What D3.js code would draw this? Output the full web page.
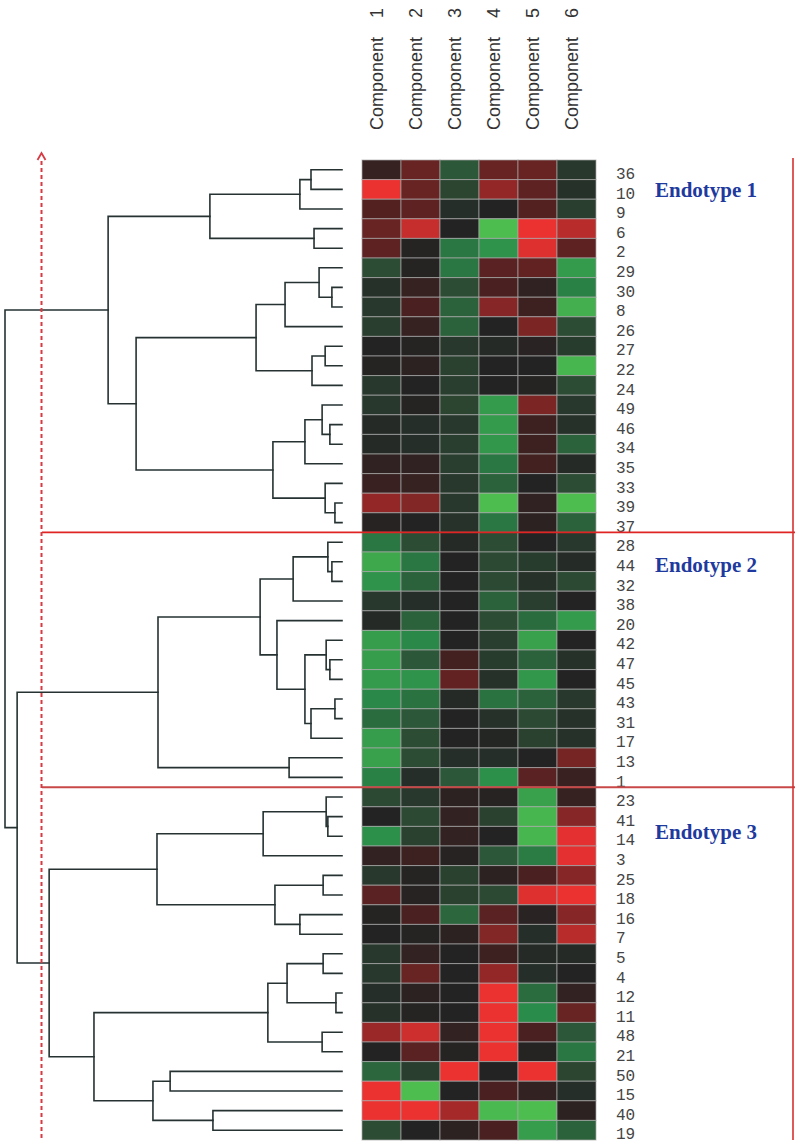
<!DOCTYPE html>
<html>
<head>
<meta charset="utf-8">
<script src="https://cdn.jsdelivr.net/npm/d3@7"></script>
<style>
  html, body { margin: 0; padding: 0; background: #fff; }
  svg { display: block; }
</style>
</head>
<body>
<svg id="chart" width="800" height="1144"></svg>
<script>
// ---------------- DATA ----------------
const components = ["Component 1","Component 2","Component 3","Component 4","Component 5","Component 6"];

const endo1Rows = ["36","10","9","6","2","29","30","8","26","27","22","24","49","46","34","35","33","39","37"];
const endo2Rows = ["28","44","32","38","20","42","47","45","43","31","17","13","1"];
const endo3Rows = ["23","41","14","3","25","18","16","7","5","4","12","11","48","21","50","15","40","19"];

// heatmap values (negative = green, positive = red)
const endo1Values = [
  [0.15, 0.45, -0.35, 0.45, 0.45, -0.15],
  [1.0, 0.45, -0.25, 0.65, 0.4, -0.1],
  [0.35, 0.4, -0.08, 0.0, 0.35, -0.2],
  [0.45, 0.85, 0.0, -0.95, 1.0, 0.8],
  [0.4, 0.02, -0.5, -0.65, 0.95, 0.4],
  [-0.3, 0.02, -0.5, 0.38, 0.42, -0.7],
  [-0.1, 0.15, -0.3, 0.3, 0.1, -0.55],
  [-0.15, 0.3, -0.4, 0.6, 0.2, -0.85],
  [-0.2, 0.15, -0.4, 0.0, 0.55, -0.3],
  [0.0, 0.02, -0.15, -0.05, 0.05, -0.18],
  [0.02, 0.08, -0.22, 0.0, 0.0, -0.9],
  [-0.15, 0.0, -0.2, 0.0, 0.02, -0.3],
  [-0.15, 0.02, -0.25, -0.7, 0.55, -0.15],
  [-0.05, -0.08, -0.15, -0.7, 0.2, -0.1],
  [-0.05, -0.08, -0.2, -0.68, 0.2, -0.4],
  [0.1, 0.1, -0.2, -0.5, 0.25, -0.05],
  [0.18, 0.15, -0.15, -0.4, 0.0, -0.3],
  [0.65, 0.58, -0.15, -0.95, 0.1, -0.95],
  [0.03, 0.0, -0.12, -0.5, 0.08, -0.4]
];
const endo2Values = [
  [-0.5, -0.3, -0.05, -0.3, 0.0, -0.15],
  [-0.8, -0.5, 0.0, -0.28, -0.18, -0.06],
  [-0.65, -0.4, 0.0, -0.28, -0.1, -0.28],
  [-0.15, -0.08, 0.0, -0.4, -0.2, 0.0],
  [-0.05, -0.4, 0.0, -0.3, -0.45, -0.7],
  [-0.72, -0.58, 0.0, -0.2, -0.75, 0.0],
  [-0.72, -0.35, 0.25, -0.18, -0.4, -0.1],
  [-0.7, -0.65, 0.42, -0.1, -0.68, 0.0],
  [-0.58, -0.48, -0.05, -0.48, -0.4, -0.15],
  [-0.45, -0.35, 0.0, -0.1, -0.28, -0.1],
  [-0.72, -0.3, 0.0, -0.02, -0.22, -0.1],
  [-0.75, -0.3, -0.08, -0.08, 0.0, 0.52],
  [-0.55, -0.08, -0.35, -0.62, 0.38, 0.18]
];
const endo3Values = [
  [-0.28, -0.15, 0.08, 0.03, -0.75, 0.15],
  [0.0, -0.28, 0.12, -0.22, -0.9, 0.6],
  [-0.62, -0.22, 0.12, 0.0, -0.9, 0.97],
  [0.12, 0.2, 0.03, -0.35, -0.52, 0.97],
  [-0.15, 0.02, -0.22, 0.08, 0.3, 0.6],
  [0.38, 0.03, -0.22, -0.28, 0.95, 1.0],
  [0.02, 0.3, -0.42, 0.38, 0.05, 0.6],
  [0.0, 0.02, 0.08, 0.58, -0.08, 0.8],
  [-0.15, 0.12, 0.0, 0.2, -0.05, -0.05],
  [-0.15, 0.45, 0.0, 0.65, -0.08, 0.0],
  [-0.08, 0.08, 0.0, 1.0, -0.45, 0.12],
  [-0.1, 0.02, 0.0, 1.0, -0.6, 0.45],
  [0.68, 0.88, 0.12, 1.0, 0.3, -0.35],
  [0.0, 0.38, 0.02, 1.0, 0.02, -0.5],
  [-0.42, -0.2, 1.0, 0.0, 1.0, -0.25],
  [1.0, -0.95, 0.0, 0.3, 0.12, -0.08],
  [1.0, 1.0, 0.72, -0.92, -0.95, 0.08],
  [-0.3, 0.0, 0.08, 0.3, -0.72, -0.4]
];

// dendrogram: [height, left, right]; leaves are row labels
const endo1Tree = [0.694,
  [0.392, [0.125, [0.092, "36", "10"], "9"], [0.083, "6", "2"]],
  [0.611,
    [0.255, [0.169, [0.068, "29", [0.030, "30", "8"]], "26"], [0.089, [0.050, "27", "22"], "24"]],
    [0.205, [0.110, [0.059, "49", [0.036, "46", "34"]], "35"], [0.050, "33", [0.021, "39", "37"]]]
  ]
];
const endo2Tree = [0.546,
  [0.243,
    [0.145, [0.042, "28", [0.030, "44", "32"]], "38"],
    [0.193, "20", [0.110, [0.047, "42", [0.036, "47", "45"]], [0.092, [0.021, "43", "31"], "17"]]]
  ],
  [0.157, "13", "1"]
];
const endo3Tree = [0.869,
  [0.549,
    [0.234, [0.047, "23", [0.042, "41", "14"]], "3"],
    [0.199, [0.056, "25", "18"], [0.125, "16", "7"]]
  ],
  [0.736,
    [0.220, [0.163, [0.056, "5", "4"], [0.018, "12", "11"]], [0.059, "48", "21"]],
    [0.561, [0.510, "50", "15"], [0.383, "40", "19"]]
  ]
];
const rootHeights = [1.0, 0.964]; // root, endotype2+3 join

const endotypeNames = ["Endotype 1", "Endotype 2", "Endotype 3"];

// ---------------- CHART ----------------
const svg = d3.select("#chart");
const rows = endo1Rows.concat(endo2Rows, endo3Rows);
const values = endo1Values.concat(endo2Values, endo3Values);
const tree = [rootHeights[0], endo1Tree, [rootHeights[1], endo2Tree, endo3Tree]];

const y = d3.scaleBand().domain(rows).range([160, 1140]);
const x = d3.scaleBand().domain(components).range([362, 596]);
const hx = d3.scaleLinear().domain([0, 1]).range([342, 5]);
const color = d3.scaleLinear()
  .domain([-1, -0.6, -0.3, 0, 0.3, 0.6, 1])
  .range(["#52c450", "#2a8c4a", "#2c4c34", "#232323", "#4a2020", "#862626", "#ec3131"]);

// heatmap cells
const cells = [];
rows.forEach((r, i) => components.forEach((c, j) => cells.push({ r, c, v: values[i][j] })));
svg.append("g").selectAll("rect").data(cells).join("rect")
  .attr("x", d => x(d.c)).attr("y", d => y(d.r))
  .attr("width", x.bandwidth()).attr("height", y.bandwidth())
  .attr("fill", d => color(d.v))
  .attr("stroke", "rgba(170,170,170,0.7)").attr("stroke-width", 1);

// column headers
svg.append("g").selectAll("text").data(components).join("text")
  .attr("transform", d => `translate(${x(d) + x.bandwidth() / 2 + 1},130) rotate(-90)`)
  .attr("font-family", "Liberation Sans, Arial, sans-serif")
  .attr("font-size", 18).attr("fill", "#333")
  .each(function (d) {
    const parts = d.split(" ");
    d3.select(this).append("tspan").text(parts[0]);
    d3.select(this).append("tspan").attr("dx", 14).text(" " + parts[1]);
  });

// row labels
svg.append("g").selectAll("text").data(rows).join("text")
  .attr("x", 616).attr("y", d => y(d) + y.bandwidth() / 2 + 5)
  .attr("dominant-baseline", "middle")
  .attr("font-family", "Liberation Mono, Courier New, monospace")
  .attr("font-size", 16).attr("fill", "#444")
  .text(d => d);

// dendrogram
const dg = svg.append("g").attr("fill", "none").attr("stroke", "#263232")
  .attr("stroke-width", 1.6).attr("stroke-linecap", "square");
function draw(node) {
  if (typeof node === "string") return { x: hx(0), y: y(node) + y.bandwidth() / 2 };
  const [h, a, b] = node;
  const A = draw(a), B = draw(b);
  const nx = hx(h);
  dg.append("path").attr("d", `M${A.x},${A.y}H${nx}V${B.y}H${B.x}`);
  return { x: nx, y: (A.y + B.y) / 2 };
}
draw(tree);

// endotype separators
const sep1 = y(endo2Rows[0]);
const sep2 = y(endo3Rows[0]);
const red = svg.append("g");
red.append("line").attr("x1", 42).attr("x2", 795).attr("y1", sep1).attr("y2", sep1)
  .attr("stroke", "#e02424").attr("stroke-width", 1.8);
red.append("line").attr("x1", 42).attr("x2", 795).attr("y1", sep2).attr("y2", sep2)
  .attr("stroke", "#c84848").attr("stroke-width", 2);
red.append("line").attr("x1", 793).attr("x2", 793).attr("y1", 158).attr("y2", 1140)
  .attr("stroke", "#d83030").attr("stroke-width", 1.6);

// cut line (dashed) with arrow
red.append("line").attr("x1", 41.5).attr("x2", 41.5).attr("y1", 161).attr("y2", 1140)
  .attr("stroke", "#d83a44").attr("stroke-width", 2).attr("stroke-dasharray", "4,3");
red.append("path").attr("d", "M37.5,160L41.5,153L45.5,160").attr("fill", "none")
  .attr("stroke", "#d83a44").attr("stroke-width", 1.8);

// endotype labels
const labelY = [197, 572, 839];
svg.append("g").selectAll("text").data(endotypeNames).join("text")
  .attr("x", 655).attr("y", (d, i) => labelY[i])
  .attr("font-family", "Liberation Serif, Times New Roman, serif")
  .attr("font-weight", "bold").attr("font-size", 21).attr("fill", "#1e3a9e")
  .text(d => d);
</script>
</body>
</html>
